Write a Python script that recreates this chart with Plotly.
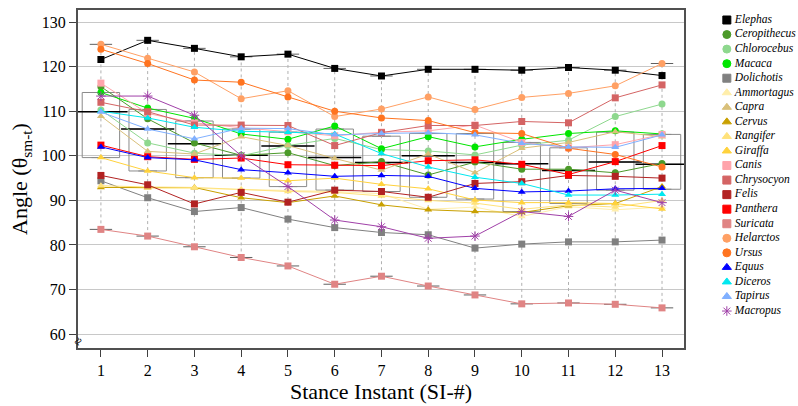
import plotly.graph_objects as go
import numpy as np

si = list(range(1, 14))

species = ["Elephas", "Ceropithecus", "Chlorocebus", "Macaca", "Dolichotis", "Ammortagus",
           "Capra", "Cervus", "Rangifer", "Giraffa", "Canis", "Chrysocyon", "Felis",
           "Panthera", "Suricata", "Helarctos", "Ursus", "Equus", "Diceros", "Tapirus", "Macropus"]

elephas      = [121.6, 125.9, 124.1, 122.2, 122.8, 119.6, 117.9, 119.4, 119.4, 119.2, 119.8, 119.2, 118.0]
ceropithecus = [115.5, 108.3, 102.9, 100.1, 100.7, 97.8, 98.7, 95.7, 98.6, 97.0, 97.0, 96.2, 98.3]
chlorocebus  = [110.3, 102.9, 100.6, 100.0, 102.3, 103.9, 101.4, 101.1, 100.2, 102.4, 103.5, 108.8, 111.6]
macaca       = [114.2, 110.7, 108.4, 104.9, 103.7, 106.7, 101.6, 104.3, 102.0, 103.7, 105.0, 105.6, 104.9]
dolichotis   = [94.4, 90.6, 87.5, 88.4, 85.8, 83.9, 82.8, 82.3, 79.3, 80.2, 80.7, 80.7, 81.1]
ammortagus   = [93.0, 92.7, 92.7, 92.5, 92.3, 92.0, 91.5, 88.0, 88.5, 86.4, 88.6, 87.9, 88.5]
capra        = [108.9, 101.0, 100.4, 104.3, 102.3, 99.4, 96.8, 100.4, 96.2, 101.7, 103.0, 105.4, 104.3]
cervus       = [92.9, 92.9, 92.9, 90.6, 89.5, 91.0, 89.0, 87.9, 87.5, 87.3, 88.8, 89.3, 93.1]
rangifer     = [93.3, 93.0, 92.9, 92.4, 92.0, 91.8, 91.0, 90.0, 89.4, 88.0, 89.0, 88.5, 90.0]
giraffa      = [99.6, 96.6, 95.1, 95.0, 94.4, 95.0, 93.6, 92.6, 90.1, 89.5, 89.5, 89.3, 88.1]
canis        = [116.3, 109.5, 107.4, 106.3, 105.4, 104.5, 105.3, 105.6, 106.9, 103.0, 101.8, 102.5, 104.8]
chrysocyon   = [112.0, 109.9, 106.9, 106.9, 106.8, 102.3, 105.2, 106.8, 106.8, 107.7, 107.4, 113.0, 115.9]
felis        = [95.6, 93.5, 89.2, 91.8, 89.6, 92.3, 92.0, 90.7, 93.8, 94.2, 95.6, 95.4, 95.0]
panthera     = [102.4, 99.8, 99.2, 99.5, 98.0, 97.9, 97.8, 98.9, 99.1, 98.1, 95.8, 98.7, 102.3]
suricata     = [83.5, 82.0, 79.6, 77.2, 75.3, 71.2, 73.0, 70.8, 68.8, 66.8, 67.0, 66.7, 65.9]
helarctos    = [125.0, 121.9, 118.8, 112.8, 114.6, 108.8, 110.5, 113.2, 110.4, 113.1, 114.0, 115.7, 120.7]
ursus        = [123.9, 120.7, 117.0, 116.5, 113.2, 110.0, 108.5, 107.9, 105.2, 105.0, 101.7, 100.3, 97.5]
equus        = [102.0, 99.6, 99.1, 96.9, 96.2, 95.4, 95.6, 95.4, 92.7, 91.9, 92.1, 92.6, 92.7]
diceros      = [110.0, 108.5, 106.4, 105.5, 105.3, 104.9, 100.5, 97.5, 95.2, 93.8, 91.2, 91.2, 91.4]
tapirus      = [109.8, 106.0, 103.8, 106.2, 106.1, 104.7, 105.0, 105.2, 104.7, 102.8, 102.0, 101.9, 104.7]
macropus     = [113.4, 113.4, 109.1, 100.0, 93.1, 85.6, 84.1, 81.5, 82.0, 87.5, 86.4, 92.3, 89.5]

# box statistics
box_q1     = [99.6, 96.6, 95.1, 95.0, 93.1, 92.3, 92.0, 90.7, 90.3, 87.5, 89.3, 92.3, 92.5]
box_median = [109.9, 106.0, 102.7, 100.1, 102.2, 99.6, 98.5, 100.0, 98.5, 98.2, 96.7, 98.6, 98.1]
box_q3     = [114.2, 110.4, 107.8, 106.0, 105.3, 106.0, 104.4, 105.0, 105.0, 103.0, 101.8, 105.3, 104.8]

values = [elephas, ceropithecus, chlorocebus, macaca, dolichotis, ammortagus, capra, cervus,
          rangifer, giraffa, canis, chrysocyon, felis, panthera, suricata, helarctos, ursus,
          equus, diceros, tapirus, macropus]

colors = ["#000000", "#4c9a2a", "#8ed88e", "#00e600", "#808080", "#ffeeaa", "#d9c07a", "#c9a000",
          "#ffe27a", "#ffd23c", "#ffa4ab", "#d46464", "#b22222", "#ff0000", "#e08484", "#ffa064",
          "#ff7420", "#0000ff", "#00e8f0", "#80b0ff", "#a040a8"]
symbols = ["square", "circle", "circle", "circle", "square", "triangle-up", "triangle-up",
           "triangle-up", "triangle-up", "triangle-up", "square", "square", "square", "square",
           "square", "circle", "circle", "triangle-up", "triangle-up", "triangle-up", "asterisk-open"]

fig = go.Figure()

# range whiskers (dotted) and caps computed from data
arr = np.array(values)
vmin = arr.min(axis=0)
vmax = arr.max(axis=0)
wx, wy = [], []
for i, s in enumerate(si):
    wx += [s, s, None]
    wy += [vmin[i], vmax[i], None]
fig.add_trace(go.Scatter(x=wx, y=wy, mode="lines", line=dict(color="#b0b0b0", width=1, dash="dot"),
                         showlegend=False, hoverinfo="skip"))
fig.add_trace(go.Scatter(x=si + si, y=list(vmin) + list(vmax), mode="markers",
                         marker=dict(symbol="line-ew", size=16, line=dict(color="#606060", width=1)),
                         showlegend=False, hoverinfo="skip"))

# boxes
fig.add_trace(go.Box(x=si, q1=box_q1, median=box_median, q3=box_q3, lowerfence=box_q1, upperfence=box_q3,
                     width=0.8, line=dict(color="#8a8a8a", width=1), fillcolor="rgba(0,0,0,0)",
                     showlegend=False, hoverinfo="skip"))
fig.add_trace(go.Scatter(x=si, y=box_median, mode="markers",
                         marker=dict(symbol="line-ew", size=38, line=dict(color="#000000", width=1.5)),
                         showlegend=False, hoverinfo="skip"))

for name, v, c, sym in zip(species, values, colors, symbols):
    msize = 8 if sym == "asterisk-open" else 7
    marker = dict(symbol=sym, size=msize, color=c)
    if sym == "asterisk-open":
        marker["line"] = dict(color=c, width=1)
    fig.add_trace(go.Scatter(x=si, y=v, mode="lines+markers", name=name,
                             line=dict(color=c, width=1), marker=marker, showlegend=False))

# custom compact legend on its own axes
idx = list(range(len(species)))
fig.add_trace(go.Scatter(x=[0.33] * len(species), y=idx, mode="markers", xaxis="x2", yaxis="y2",
                         marker=dict(symbol=symbols, color=colors, size=8,
                                     line=dict(color=colors, width=1)),
                         cliponaxis=False, showlegend=False, hoverinfo="skip"))
fig.add_trace(go.Scatter(x=[0.41] * len(species), y=idx, mode="text", text=species,
                         textposition="middle right", xaxis="x2", yaxis="y2", cliponaxis=False,
                         textfont=dict(family="Liberation Serif", size=11.5, style="italic", color="#000"),
                         showlegend=False, hoverinfo="skip"))

W = 798 - 78 - 4
fig.update_layout(
    width=798, height=406,
    margin=dict(l=78, r=4, t=10, b=58),
    plot_bgcolor="white", paper_bgcolor="white",
    font=dict(family="Liberation Serif", color="#000000"),
    showlegend=False,
    xaxis2=dict(domain=[0.86, 1.0], range=[0, 1], visible=False, anchor="y2"),
    yaxis2=dict(domain=[0, 1], range=[22.54, -0.687], visible=False, anchor="x2"),
    xaxis=dict(domain=[0, (684 - 78) / W], range=[0.51, 13.47], tickvals=si,
               ticks="outside", ticklen=7, tickcolor="#404040",
               showgrid=False, showline=True, linecolor="#505050", linewidth=2, mirror=True,
               tickfont=dict(size=16), zeroline=False,
               title=dict(text="Stance Instant (SI-#)", font=dict(size=22), standoff=2)),
    yaxis=dict(range=[56.9, 132.7], tickvals=[60, 70, 80, 90, 100, 110, 120, 130],
               ticks="outside", ticklen=7, tickcolor="#404040", showgrid=True,
               gridcolor="#c8c8c8", gridwidth=1, showline=True, linecolor="#505050",
               linewidth=2, mirror=True, zeroline=False, tickfont=dict(size=16),
               title=dict(text="Angle (θ<sub>sm-t</sub>)", font=dict(size=22), standoff=8)),
)
fig.add_annotation(x=0, y=0, xref="paper", yref="paper", text="≈", showarrow=False, textangle=-60,
                   xanchor="center", yanchor="middle", font=dict(size=14), yshift=7)

fig.write_html("out.html", config={"displayModeBar": False},
               post_script="document.body.style.margin='0px';")
